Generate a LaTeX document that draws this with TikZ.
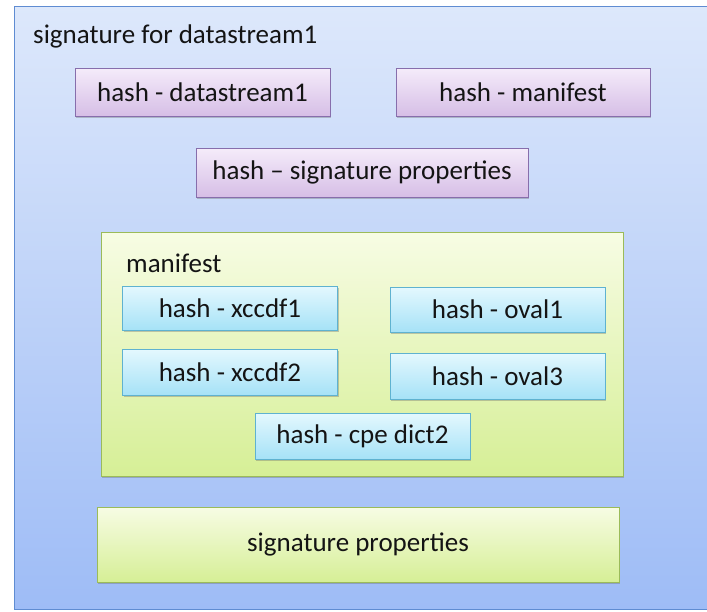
\documentclass[tikz,border=0pt]{standalone}
\usepackage{fontspec}
\setmainfont{Carlito}
\usetikzlibrary{shadows}
\definecolor{outtop}{RGB}{221,232,251}
\definecolor{outbot}{RGB}{158,188,246}
\definecolor{outline}{RGB}{95,140,210}
\definecolor{purtop}{RGB}{245,236,250}
\definecolor{purbot}{RGB}{214,190,230}
\definecolor{purline}{RGB}{135,110,172}
\definecolor{cyatop}{RGB}{228,248,254}
\definecolor{cyabot}{RGB}{166,226,247}
\definecolor{cyaline}{RGB}{95,178,208}
\definecolor{grntop}{RGB}{247,252,228}
\definecolor{grnbot}{RGB}{214,239,150}
\definecolor{grnline}{RGB}{155,187,89}
\definecolor{txt}{RGB}{20,20,20}
\tikzset{
  shd/.style={drop shadow={shadow xshift=1.2pt,shadow yshift=-1.6pt,opacity=0.35,fill=black!60}},
  purbox/.style={draw=purline,line width=1pt,top color=purtop,bottom color=purbot,shd,
    inner sep=0pt,text=txt,font=\fontsize{27}{31}\selectfont},
  cyabox/.style={draw=cyaline,line width=1pt,top color=cyatop,bottom color=cyabot,shd,
    inner sep=0pt,text=txt,font=\fontsize{27}{31}\selectfont,minimum width=215pt},
  grnbox/.style={draw=grnline,line width=1pt,top color=grntop,bottom color=grnbot,shd,
    inner sep=0pt,text=txt,font=\fontsize{27}{31}\selectfont},
  lbl/.style={anchor=base west,inner sep=0pt,text=txt,font=\fontsize{27}{31}\selectfont}
}
\begin{document}
\begin{tikzpicture}[x=1pt,y=-1pt]
\useasboundingbox (0,0) rectangle (707,611);
\node[draw=outline,line width=1pt,top color=outtop,bottom color=outbot,inner sep=0pt,
  minimum width=695pt,minimum height=603pt] (outer) at (361.5,307.5) {};
\node[lbl] (title) at (33,43) {signature for datastream1};
\node[purbox,minimum width=255pt,minimum height=48pt] (hds) at (202.5,92) {hash - datastream1};
\node[purbox,minimum width=254pt,minimum height=48pt] (hman) at (523,92) {hash - manifest};
\node[purbox,minimum width=332pt,minimum height=49pt] (hsp) at (362,172.5) {hash – signature properties};
\node[grnbox,minimum width=522pt,minimum height=244pt] (man) at (362,354) {};
\node[lbl] (mantitle) at (126,272) {manifest};
\node[cyabox,minimum height=44pt] (x1) at (230,308) {hash - xccdf1};
\node[cyabox,minimum height=45pt] (o1) at (497.5,309.5) {hash - oval1};
\node[cyabox,minimum height=46pt] (x2) at (230,372) {hash - xccdf2};
\node[cyabox,minimum height=46pt] (o3) at (497.5,376) {hash - oval3};
\node[cyabox,minimum height=46pt] (cpe) at (362.5,436) {hash - cpe dict2};
\node[grnbox,minimum width=522pt,minimum height=75pt] (sp) at (358,544.5) {signature properties};
\end{tikzpicture}
\end{document}
